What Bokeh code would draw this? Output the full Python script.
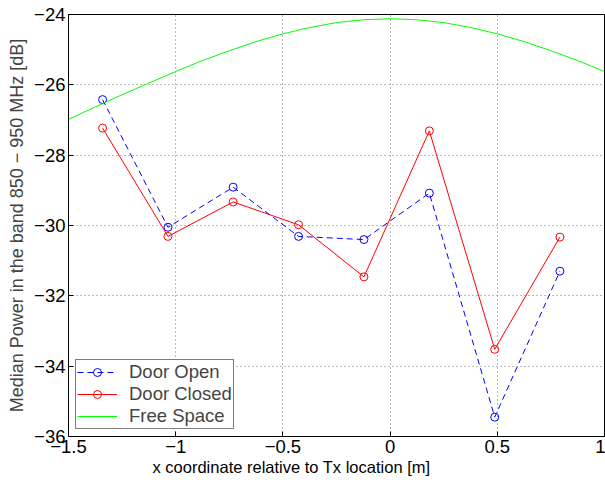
from bokeh.plotting import figure
from bokeh.models import FixedTicker, Range1d, Title
from bokeh.embed import file_html
from bokeh.resources import INLINE

# ---- data ----
x_pos = [-1.341, -1.036, -0.732, -0.427, -0.122, 0.183, 0.488, 0.792]
door_open = [-26.42, -30.05, -28.91, -30.31, -30.40, -29.08, -35.45, -31.30]
door_closed = [-27.23, -30.31, -29.33, -29.98, -31.46, -27.31, -33.52, -30.33]

fs_x = [-1.5, -1.375, -1.25, -1.125, -1.0, -0.875, -0.75, -0.625, -0.5, -0.375, -0.25,
        -0.125, 0.0, 0.125, 0.25, 0.375, 0.5, 0.625, 0.75, 0.875, 1.0]
fs_y = [-26.98, -26.63, -26.28, -25.95, -25.62, -25.31, -25.03, -24.77, -24.55, -24.37, -24.23,
        -24.15, -24.12, -24.15, -24.23, -24.37, -24.55, -24.77, -25.03, -25.31, -25.62]

x_ticks = [-1.5, -1, -0.5, 0, 0.5, 1]
x_tick_labels = ["\u22121.5", "\u22121", "\u22120.5", "0", "0.5", "1"]
y_ticks = [-36, -34, -32, -30, -28, -26, -24]
y_tick_labels = ["\u221236", "\u221234", "\u221232", "\u221230", "\u221228", "\u221226", "\u221224"]

x_label = "x coordinate relative to Tx location [m]"
y_label = "Median Power in the band 850 \u2212 950 MHz [dB]"

FONT = "Liberation Sans"

p = figure(width=605, height=483, output_backend="svg", toolbar_location=None,
           x_range=Range1d(-1.5, 1.0), y_range=Range1d(-36, -24),
           min_border_left=68, min_border_right=1, min_border_top=14, min_border_bottom=47)
p.background_fill_color = "white"
p.border_fill_color = "white"
p.outline_line_color = "black"
p.outline_line_width = 1

for ax, ticks, labels in ((p.xaxis, x_ticks, x_tick_labels), (p.yaxis, y_ticks, y_tick_labels)):
    ax.ticker = FixedTicker(ticks=ticks)
    ax.major_label_overrides = dict(zip(ticks, labels))
    ax.major_label_text_font = FONT
    ax.major_label_text_font_size = "18.5px"
    ax.major_label_text_color = "black"
    ax.major_tick_in = 5
    ax.major_tick_out = 0
    ax.minor_tick_line_color = None
    ax.axis_line_color = "black"
    ax.major_tick_line_color = "black"
    ax.major_label_standoff = 3

p.yaxis.axis_label = y_label
p.yaxis.axis_label_text_font = FONT
p.yaxis.axis_label_text_font_size = "18px"
p.yaxis.axis_label_text_font_style = "normal"
p.yaxis.axis_label_standoff = 4

p.add_layout(Title(text=x_label, align="left", offset=84, standoff=0,
                   text_font=FONT, text_font_size="16.5px", text_font_style="normal",
                   text_color="black"), "below")

p.xgrid.ticker = FixedTicker(ticks=x_ticks)
p.ygrid.ticker = FixedTicker(ticks=y_ticks)
p.grid.grid_line_color = "#777777"
p.grid.grid_line_dash = "1 3"
p.grid.grid_line_width = 1

p.line(x_pos, door_open, line_color="#0000ff", line_width=1, line_dash="6 4", legend_label="Door Open")
p.scatter(x_pos, door_open, marker="circle", size=8, fill_color=None, line_color="#0000ff",
          line_width=1, legend_label="Door Open")
p.line(x_pos, door_closed, line_color="#ff0000", line_width=1, legend_label="Door Closed")
p.scatter(x_pos, door_closed, marker="circle", size=8, fill_color=None, line_color="#ff0000",
          line_width=1, legend_label="Door Closed")
p.line(fs_x, fs_y, line_color="#00ff00", line_width=1, legend_label="Free Space")

lg = p.legend[0]
lg.location = "bottom_left"
lg.margin = 7
lg.padding = 1
lg.spacing = 0
lg.glyph_width = 40
lg.glyph_height = 20
lg.label_height = 20
lg.label_standoff = 12
lg.label_text_font = FONT
lg.label_text_font_size = "18.5px"
lg.border_line_color = "black"
lg.border_line_width = 1
lg.background_fill_color = "white"
lg.background_fill_alpha = 1

open("out.html", "w").write(file_html(p, INLINE))
